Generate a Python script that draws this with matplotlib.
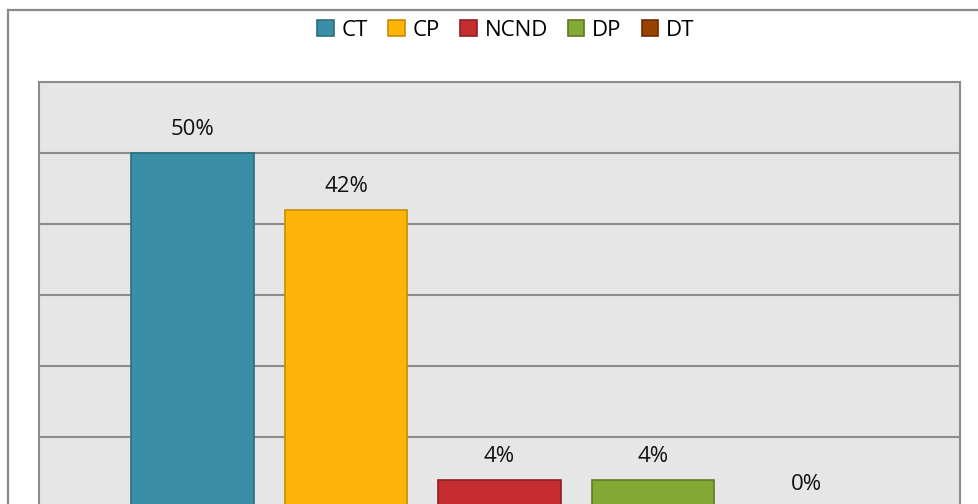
import matplotlib.pyplot as plt
from matplotlib.patches import Patch
from matplotlib.lines import Line2D

# data
labels = ["CT", "CP", "NCND", "DP", "DT"]
values = [0.50, 0.42, 0.04, 0.04, 0.0]
face = ["#3a8fa6", "#ffb40a", "#c62d30", "#84a834", "#9a4200"]
edge = ["#2c6e80", "#c68c00", "#8e1f22", "#5f7b22", "#6b2d00"]

plt.rcParams['font.family'] = ['Open Sans', 'DejaVu Sans']

W, H = 979, 504
fig = plt.figure(figsize=(W / 100, H / 100), dpi=100)

# outer chart frame (only top and left edges are inside the crop)
fx, fy = 8 / W, 1 - 10 / H
fig.add_artist(Line2D([fx, 1.1], [fy, fy], color="#8a8a8a", lw=1.6, transform=fig.transFigure))
fig.add_artist(Line2D([fx, fx], [fy, -0.1], color="#8a8a8a", lw=1.6, transform=fig.transFigure))

# plot area; its bottom sits just below the picture edge
left, right, top, zero = 39, 960, 82, 508
ax = fig.add_axes([left / W, 1 - zero / H, (right - left) / W, (zero - top) / H])
ax.set_facecolor("#e6e6e6")
ax.set_xlim(-1, 5)
ax.set_ylim(0, 0.6)
ax.set_yticks([0.1, 0.2, 0.3, 0.4, 0.5])
ax.yaxis.grid(True, color="#8c8c8c", lw=1.5)
ax.set_axisbelow(True)
ax.tick_params(left=False, bottom=False, labelleft=False, labelbottom=False)
for s in ax.spines.values():
    s.set_color("#8c8c8c")
    s.set_linewidth(1.5)

x = list(range(len(labels)))
ax.bar(x, values, width=0.8, color=face, edgecolor=edge, linewidth=1.2, zorder=2)
for xi, v in zip(x, values):
    ax.annotate("{:.0%}".format(v), (xi, v), xytext=(0, 13), textcoords="offset points",
                ha="center", va="baseline", fontsize=16, color="#111111")

handles = [Patch(facecolor=f, edgecolor=e, linewidth=1.2) for f, e in zip(face, edge)]
fig.legend(handles, labels, loc="center", bbox_to_anchor=(506 / W, 1 - 30 / H), ncol=5,
           frameon=False, fontsize=16, handlelength=0.75, handleheight=0.75,
           handletextpad=0.35, columnspacing=0.9)

fig.savefig("out.png", dpi=100)
